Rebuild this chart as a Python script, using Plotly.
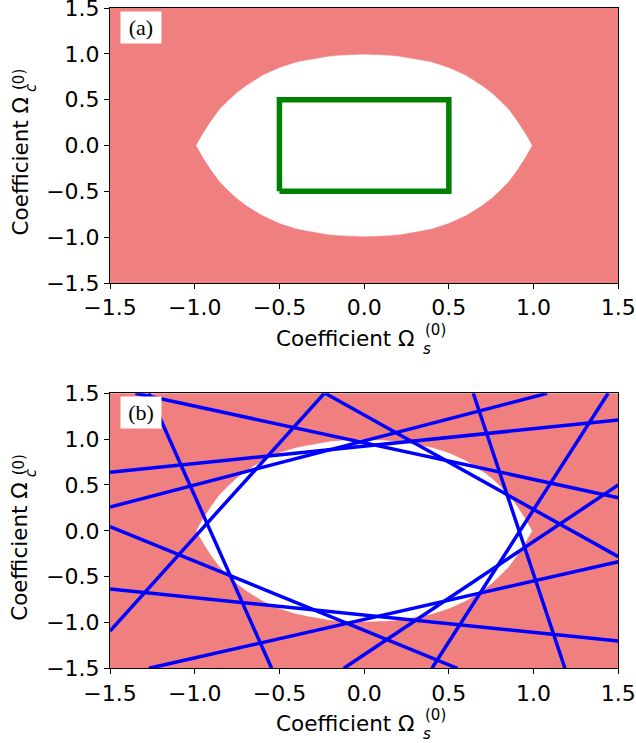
import plotly.graph_objects as go

# ---------------- data ----------------
# white "allowed" region boundary (upper half; lower half is its mirror)
eye_s = [-0.99, -0.95, -0.9, -0.85, -0.8, -0.75, -0.7, -0.6, -0.5, -0.4, -0.3, -0.2, -0.1, 0.0,
         0.1, 0.2, 0.3, 0.4, 0.5, 0.6, 0.7, 0.75, 0.8, 0.85, 0.9, 0.95, 0.99]
eye_c_upper = [0.0, 0.13, 0.272, 0.398, 0.49, 0.576, 0.645, 0.762, 0.845, 0.905, 0.94, 0.972, 0.985, 0.99,
               0.985, 0.972, 0.94, 0.905, 0.845, 0.762, 0.645, 0.576, 0.49, 0.398, 0.272, 0.13, 0.0]
eye_c_lower = [-v for v in eye_c_upper]

# green box in panel (a)
box_s = [-0.5, 0.5, 0.5, -0.5, -0.5]
box_c = [-0.5, -0.5, 0.5, 0.5, -0.5]

# blue lines in panel (b): start / end points
line_s_start = [-1.5, -1.5, -1.5, -1.5, -1.5, -1.27, -1.27, -1.35, -0.23, -0.12, 0.40, 0.644]
line_c_start = [0.638, 0.26, 0.045, -0.635, -1.093, -1.5, 1.5, 1.5, 1.5, -1.5, -1.5, 1.5]
line_s_end = [1.5, 1.08, 0.55, 1.5, -0.235, 1.5, -0.546, 1.5, 1.5, 1.5, 1.44, 1.185]
line_c_end = [1.209, 1.5, -1.5, -1.202, 1.5, -0.337, -1.5, 0.361, -0.282, 0.5, 1.5, -1.5]

tick_vals = [-1.5, -1.0, -0.5, 0.0, 0.5, 1.0, 1.5]
panel_labels = ["(a)", "(b)"]

# ---------------- figure ----------------
W, H = 636, 743
PINK = "#F08080"


def fx(p):
    return p / W


def fy(p):
    return 1 - p / H


fig = go.Figure()
axes = [("x", "y"), ("x2", "y2")]

for k, (xa, ya) in enumerate(axes):
    fig.add_trace(go.Scatter(x=eye_s, y=eye_c_upper, mode="lines",
                             line=dict(width=0.5, color="white", shape="spline", smoothing=0.3),
                             xaxis=xa, yaxis=ya, hoverinfo="skip", showlegend=False))
    fig.add_trace(go.Scatter(x=eye_s, y=eye_c_lower, mode="lines", fill="tonexty",
                             fillcolor="white",
                             line=dict(width=0.5, color="white", shape="spline", smoothing=0.3),
                             xaxis=xa, yaxis=ya, hoverinfo="skip", showlegend=False))

fig.add_trace(go.Scatter(x=box_s, y=box_c, mode="lines",
                         line=dict(color="#008000", width=5.5),
                         xaxis="x", yaxis="y", showlegend=False, hoverinfo="skip"))

for s0, c0, s1, c1 in zip(line_s_start, line_c_start, line_s_end, line_c_end):
    fig.add_trace(go.Scatter(x=[s0, s1], y=[c0, c1], mode="lines",
                             line=dict(color="#0000FF", width=3.5),
                             xaxis="x2", yaxis="y2", showlegend=False, hoverinfo="skip"))

tickfont = dict(family="DejaVu Sans", size=22, color="black")
common = dict(range=[-1.5, 1.5], tickvals=tick_vals, tickformat=".1f",
              ticks="outside", ticklen=5, tickwidth=1, tickcolor="black",
              showline=True, linecolor="black", linewidth=1, mirror=True,
              showgrid=False, zeroline=False, tickfont=tickfont, automargin=False,
              ticklabeloverflow="allow")

xdom = [110 / W, 618.3 / W]
panel_top = [8.0, 393.3]
panel_h = 275.0

fig.update_layout(width=W, height=H, margin=dict(l=0, r=0, t=0, b=0, autoexpand=False),
                  plot_bgcolor=PINK, paper_bgcolor="white", showlegend=False,
                  template="none")
fig.update_layout(
    xaxis=dict(domain=xdom, anchor="y", **common),
    yaxis=dict(domain=[fy(panel_top[0] + panel_h), fy(panel_top[0])], anchor="x", **common),
    xaxis2=dict(domain=xdom, anchor="y2", **common),
    yaxis2=dict(domain=[fy(panel_top[1] + panel_h), fy(panel_top[1])], anchor="x2", **common),
)

annotations = []
labfont = dict(family="DejaVu Sans", size=21.5, color="black")
smallfont = dict(family="DejaVu Sans", size=15, color="black")
for k, top in enumerate(panel_top):
    # panel label box
    annotations.append(dict(text=panel_labels[k], x=fx(140.7), y=fy(top + 19.2),
                            xref="paper", yref="paper", showarrow=False,
                            xanchor="center", yanchor="middle", width=40, height=31,
                            bgcolor="white", borderpad=0,
                            font=dict(family="Liberation Serif", size=22, color="black")))
    # x-axis title
    annotations.append(dict(text="Coefficient Ω", x=fx(417), y=fy(top + 330),
                            xref="paper", yref="paper", showarrow=False,
                            xanchor="right", yanchor="middle", font=labfont))
    annotations.append(dict(text="<i>s</i>", x=fx(421), y=fy(top + 341),
                            xref="paper", yref="paper", showarrow=False,
                            xanchor="left", yanchor="middle", font=smallfont))
    annotations.append(dict(text="(0)", x=fx(423), y=fy(top + 322),
                            xref="paper", yref="paper", showarrow=False,
                            xanchor="left", yanchor="middle", font=smallfont))
    # y-axis title (rotated)
    annotations.append(dict(text="Coefficient Ω", x=fx(20), y=fy(top + 230),
                            xref="paper", yref="paper", showarrow=False, textangle=-90,
                            xanchor="center", yanchor="bottom", font=labfont))
    annotations.append(dict(text="<i>c</i>", x=fx(31), y=fy(top + 80),
                            xref="paper", yref="paper", showarrow=False, textangle=-90,
                            xanchor="center", yanchor="middle", font=smallfont))
    annotations.append(dict(text="(0)", x=fx(19), y=fy(top + 72),
                            xref="paper", yref="paper", showarrow=False, textangle=-90,
                            xanchor="center", yanchor="middle", font=smallfont))

fig.update_layout(annotations=annotations)
fig.write_html("out.html")
